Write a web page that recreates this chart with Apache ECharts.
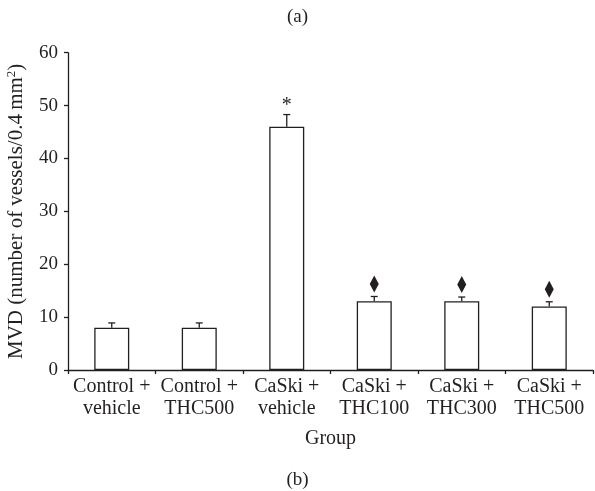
<!DOCTYPE html>
<html>
<head>
<meta charset="utf-8">
<script src="https://cdn.jsdelivr.net/npm/echarts@6/dist/echarts.min.js"></script>
<style>
html,body{margin:0;padding:0;background:#fff;}
#chart{width:595px;height:491px;}
</style>
</head>
<body>
<div id="chart"></div>
<script>
var categories = ['Control +\nvehicle', 'Control +\nTHC500', 'CaSki +\nvehicle', 'CaSki +\nTHC100', 'CaSki +\nTHC300', 'CaSki +\nTHC500'];
var means = [8, 8, 46, 13, 13, 12];
var errors = [0.9, 0.9, 2.3, 0.9, 0.8, 0.9];
var marks = ['', '', 'star', 'diamond', 'diamond', 'diamond'];
var yTicks = [0, 10, 20, 30, 40, 50, 60];

var FONT = 'Liberation Serif';
var INK = '#231f20';

var errData = means.map(function (m, i) { return [i, m, m + errors[i], marks[i]]; });

var chart = echarts.init(document.getElementById('chart'));
chart.setOption({
  animation: false,
  backgroundColor: '#fff',
  textStyle: { fontFamily: FONT, color: INK },
  title: [
    { text: '(a)', left: 'center', top: 3, textStyle: { fontFamily: FONT, fontSize: 19, fontWeight: 'normal', color: INK } },
    { text: '(b)', left: 'center', top: 466, textStyle: { fontFamily: FONT, fontSize: 19, fontWeight: 'normal', color: INK } }
  ],
  grid: { left: 68, right: 2, top: 52.7, bottom: 121, containLabel: false, outerBoundsMode: 'none' },
  xAxis: {
    type: 'category',
    data: categories,
    name: 'Group',
    nameLocation: 'middle',
    nameGap: 59,
    nameTextStyle: { fontFamily: FONT, fontSize: 20, color: INK },
    axisLine: { lineStyle: { color: INK, width: 1.3 } },
    axisTick: { show: true, length: 4, lineStyle: { color: INK, width: 1.3 } },
    axisLabel: { fontFamily: FONT, fontSize: 20, color: INK, lineHeight: 22, margin: 6, interval: 0 }
  },
  yAxis: {
    type: 'value',
    min: yTicks[0],
    max: yTicks[yTicks.length - 1],
    interval: 10,
    name: 'MVD (number of vessels/0.4\u2009mm{sup|2})',
    nameLocation: 'middle',
    nameGap: 40,
    nameRotate: 90,
    nameTextStyle: {
      fontFamily: FONT, fontSize: 21, color: INK,
      rich: { sup: { fontFamily: FONT, fontSize: 13, color: INK, verticalAlign: 'top', padding: [0, 0, 10, 0] } }
    },
    axisLine: { show: true, lineStyle: { color: INK, width: 1.3 } },
    axisTick: { show: true, length: 4, lineStyle: { color: INK, width: 1.3 } },
    axisLabel: { fontFamily: FONT, fontSize: 19, color: INK, margin: 10 },
    splitLine: { show: false }
  },
  series: [
    {
      type: 'bar',
      data: means,
      barWidth: '40%',
      itemStyle: { color: '#fff', borderColor: INK, borderWidth: 1.3 },
      z: 2
    },
    {
      type: 'custom',
      data: errData,
      z: 3,
      renderItem: function (params, api) {
        var i = api.value(0);
        var base = api.coord([i, api.value(1)]);
        var top = api.coord([i, api.value(2)]);
        var x = base[0];
        var cap = 3.5;
        var children = [
          { type: 'line', shape: { x1: x, y1: base[1], x2: x, y2: top[1] }, style: { stroke: INK, lineWidth: 1.3 } },
          { type: 'line', shape: { x1: x - cap, y1: top[1], x2: x + cap, y2: top[1] }, style: { stroke: INK, lineWidth: 1.3 } }
        ];
        var mk = marks[params.dataIndex];
        if (mk === 'diamond') {
          var cy = top[1] - 12.5;
          children.push({ type: 'polygon', shape: { points: [[x, cy - 8.5], [x + 4.5, cy], [x, cy + 8.5], [x - 4.5, cy]] }, style: { fill: INK } });
        } else if (mk === 'star') {
          children.push({ type: 'text', style: { text: '*', x: x, y: top[1] + 1, align: 'center', verticalAlign: 'bottom', fontFamily: FONT, fontSize: 20, fill: INK } });
        }
        return { type: 'group', children: children };
      }
    }
  ]
});
</script>
</body>
</html>
